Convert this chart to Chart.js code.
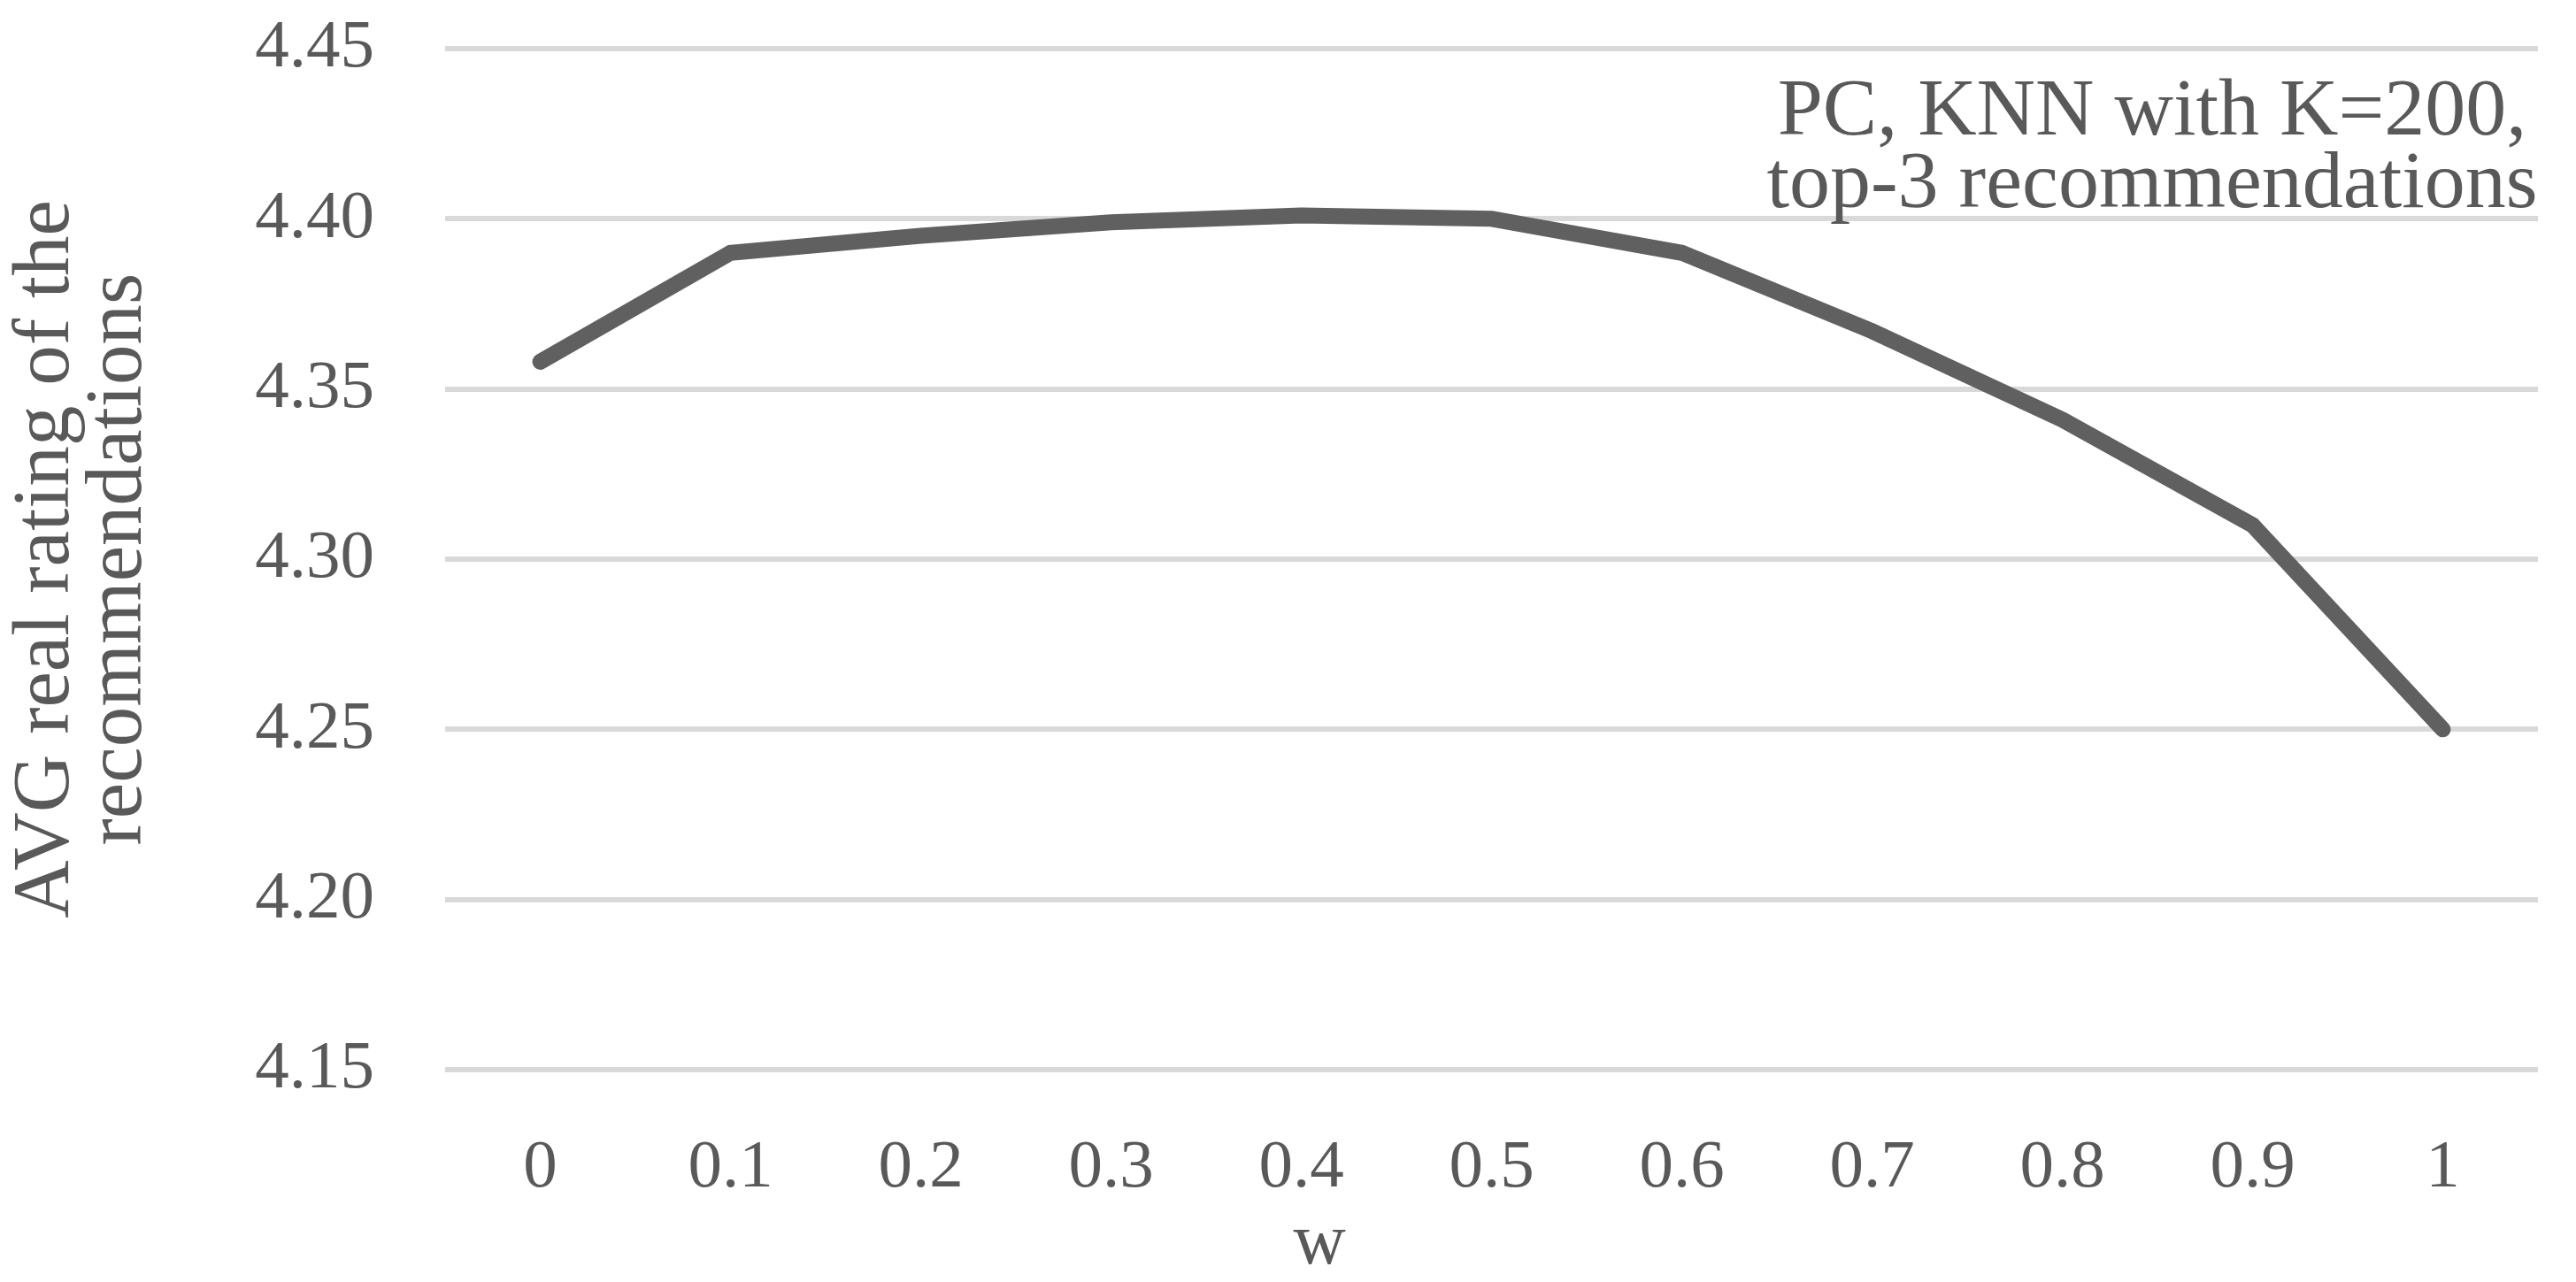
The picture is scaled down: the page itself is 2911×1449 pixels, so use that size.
<!DOCTYPE html>
<html>
<head>
<meta charset="utf-8">
<script src="https://cdn.jsdelivr.net/npm/chart.js@4.4.1/dist/chart.umd.min.js"></script>
<style>
  html, body { margin: 0; padding: 0; background: #ffffff; }
  #wrap { width: 2911px; height: 1449px; }
</style>
</head>
<body>
<div id="wrap"><canvas id="ratingChart" width="2911" height="1449"></canvas></div>
<script>
// chart data
const wLabels = ['0', '0.1', '0.2', '0.3', '0.4', '0.5', '0.6', '0.7', '0.8', '0.9', '1'];
const avgRating = [4.358, 4.390, 4.395, 4.399, 4.401, 4.400, 4.390, 4.367, 4.341, 4.310, 4.250];
const yMin = 4.15;
const yMax = 4.45;
const yStep = 0.05;
const noteLines = ['PC, KNN with K=200,', 'top-3 recommendations'];
const xTitle = 'w';

const textColor = '#595959';
const fontFamily = '"Liberation Serif", "DejaVu Serif", serif';

// corner note (centred lines) and the x axis title, which sits left of centre
const notePlugin = {
    id: 'cornerNote',
    afterDraw(chart) {
        const c = chart.ctx;
        c.save();
        c.font = '92px ' + fontFamily;
        c.fillStyle = textColor;
        c.textAlign = 'center';
        c.textBaseline = 'middle';
        c.fillText(noteLines[0], 2432, 128);
        c.fillText(noteLines[1], 2432, 210);
        c.font = '82px ' + fontFamily;
        c.textBaseline = 'alphabetic';
        c.fillText(xTitle, 1491, 1428);
        c.restore();
    }
};

const ctx = document.getElementById('ratingChart').getContext('2d');
new Chart(ctx, {
    type: 'line',
    data: {
        labels: wLabels,
        datasets: [{
            label: 'AVG rating',
            data: avgRating,
            borderColor: '#606060',
            borderWidth: 18,
            borderCapStyle: 'round',
            borderJoinStyle: 'miter',
            pointRadius: 0,
            tension: 0,
            fill: false
        }]
    },
    options: {
        responsive: false,
        animation: false,
        devicePixelRatio: 1,
        layout: { padding: { top: 55, right: 43, left: 0, bottom: 0 } },
        plugins: {
            legend: { display: false },
            tooltip: { enabled: false }
        },
        scales: {
            x: {
                offset: true,
                grid: { display: false, drawTicks: false },
                border: { display: false },
                ticks: {
                    color: textColor,
                    font: { family: fontFamily, size: 77 },
                    padding: 66,
                    maxRotation: 0
                },
                title: { display: false },
                afterFit(scale) {
                    scale.height = 240;
                    scale.paddingLeft = 0;
                    scale.paddingRight = 0;
                }
            },
            y: {
                min: yMin,
                max: yMax,
                grid: { color: '#d9d9d9', lineWidth: 6, drawTicks: false },
                border: { display: false },
                ticks: {
                    stepSize: yStep,
                    color: textColor,
                    font: { family: fontFamily, size: 77 },
                    padding: 80,
                    callback: v => v.toFixed(2)
                },
                title: {
                    display: true,
                    text: ['AVG real rating of the', 'recommendations'],
                    color: textColor,
                    font: { family: fontFamily, size: 91, lineHeight: 0.9 },
                    padding: { top: 12, bottom: 0 }
                },
                afterFit(scale) {
                    scale.width = 503;
                    scale.paddingTop = 0;
                    scale.paddingBottom = 0;
                }
            }
        }
    },
    plugins: [notePlugin]
});
</script>
</body>
</html>
